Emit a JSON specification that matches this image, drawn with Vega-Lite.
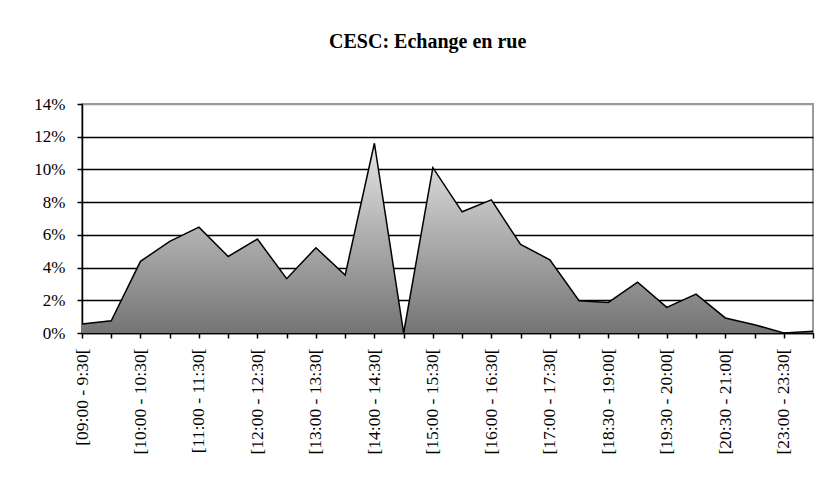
{
  "$schema": "https://vega.github.io/schema/vega-lite/v6.json",
  "width": 731,
  "height": 229,
  "padding": {"left": 33, "top": 32, "right": 21, "bottom": 5},
  "background": "white",
  "title": {
    "text": "CESC: Echange en rue",
    "font": "Liberation Serif",
    "fontSize": 20,
    "fontWeight": "bold",
    "color": "black",
    "anchor": "middle",
    "frame": "bounds",
    "offset": 43
  },
  "data": {
    "values": [
      {"slot": "[09:00 - 9:30[", "share": 0.0055},
      {"slot": "[09:30 - 10:00[", "share": 0.0075},
      {"slot": "[10:00 - 10:30[", "share": 0.0438},
      {"slot": "[10:30 - 11:00[", "share": 0.056},
      {"slot": "[11:00 - 11:30[", "share": 0.0647},
      {"slot": "[11:30 - 12:00[", "share": 0.0468},
      {"slot": "[12:00 - 12:30[", "share": 0.0574},
      {"slot": "[12:30 - 13:00[", "share": 0.0332},
      {"slot": "[13:00 - 13:30[", "share": 0.0521},
      {"slot": "[13:30 - 14:00[", "share": 0.0354},
      {"slot": "[14:00 - 14:30[", "share": 0.116},
      {"slot": "[14:30 - 15:00[", "share": 0.0},
      {"slot": "[15:00 - 15:30[", "share": 0.1011},
      {"slot": "[15:30 - 16:00[", "share": 0.0741},
      {"slot": "[16:00 - 16:30[", "share": 0.0814},
      {"slot": "[16:30 - 17:00[", "share": 0.0541},
      {"slot": "[17:00 - 17:30[", "share": 0.0448},
      {"slot": "[17:30 - 18:30[", "share": 0.0197},
      {"slot": "[18:30 - 19:00[", "share": 0.0187},
      {"slot": "[19:00 - 19:30[", "share": 0.0311},
      {"slot": "[19:30 - 20:00[", "share": 0.0157},
      {"slot": "[20:00 - 20:30[", "share": 0.0238},
      {"slot": "[20:30 - 21:00[", "share": 0.0092},
      {"slot": "[21:00 - 23:00[", "share": 0.0051},
      {"slot": "[23:00 - 23:30[", "share": 0.0},
      {"slot": "[23:30 - 24:00[", "share": 0.001}
    ]
  },
  "mark": {
    "type": "area",
    "color": {
      "gradient": "linear",
      "x1": 0, "y1": 0, "x2": 0, "y2": 1,
      "stops": [
        {"offset": 0, "color": "#e6e6e6"},
        {"offset": 1, "color": "#747474"}
      ]
    },
    "opacity": 1,
    "line": {"color": "black", "strokeWidth": 1.5}
  },
  "encoding": {
    "x": {
      "field": "slot",
      "type": "ordinal",
      "sort": null,
      "scale": {"type": "point", "padding": 0},
      "axis": {
        "title": null,
        "labelAngle": -90,
        "labelFont": "Liberation Serif",
        "labelFontSize": 17.5,
        "labelColor": "black",
        "labelPadding": 10,
        "labelExpr": "round(datum.index * 25) % 2 === 0 ? datum.label : ''",
        "labelOverlap": false,
        "domainColor": "black",
        "domainWidth": 1.5,
        "tickColor": "black",
        "tickSize": 5,
        "tickWidth": 1.5,
        "grid": false
      }
    },
    "y": {
      "field": "share",
      "type": "quantitative",
      "scale": {"domain": [0, 0.14], "nice": false},
      "axis": {
        "title": null,
        "values": [0, 0.02, 0.04, 0.06, 0.08, 0.1, 0.12, 0.14],
        "format": ".0%",
        "labelFont": "Liberation Serif",
        "labelFontSize": 17,
        "labelColor": "black",
        "labelPadding": 12,
        "domainColor": "black",
        "domainWidth": 1.5,
        "tickColor": "black",
        "tickSize": 5,
        "tickWidth": 1.5,
        "grid": true,
        "gridColor": {"condition": {"test": "datum.value >= 0.14", "value": "#9a9a9a"}, "value": "black"},
        "gridWidth": 1.5
      }
    }
  },
  "config": {
    "view": {"stroke": "#9a9a9a", "strokeWidth": 2}
  }
}
